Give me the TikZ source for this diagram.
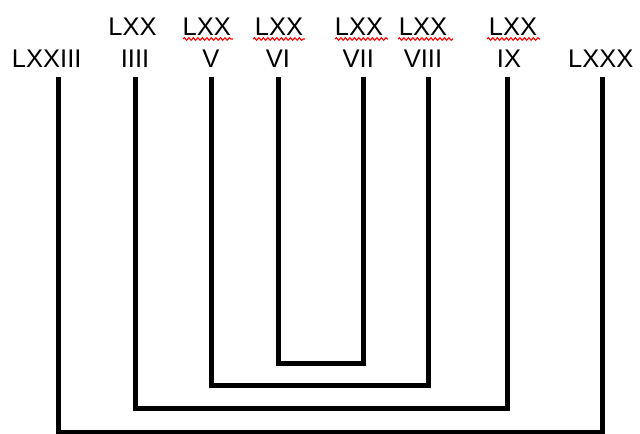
\documentclass[tikz,border=0pt]{standalone}
\usepackage{fontspec}
\setmainfont{Liberation Sans}
\usetikzlibrary{decorations.pathmorphing}
\begin{document}
\begin{tikzpicture}[x=1bp,y=-1bp,
  lbl/.style={anchor=base,inner sep=0pt,font=\fontsize{25.5bp}{30bp}\selectfont},
  bracket/.style={line width=5bp,line join=miter,black},
  squig/.style={red,line width=1.1bp,decorate,decoration={snake,amplitude=1.3bp,segment length=4.5bp}}]
\useasboundingbox (0,0) rectangle (640,434);
% top row
\node[lbl] (u4) at (132.5,36) {LXX};
\node[lbl] (u5) at (206.7,36) {LXX};
\node[lbl] (u6) at (279,36) {LXX};
\node[lbl] (u7) at (359,36) {LXX};
\node[lbl] (u8) at (423,36) {LXX};
\node[lbl] (u9) at (513,36) {LXX};
% second row
\node[lbl] (l3) at (46.7,68) {LXXIII};
\node[lbl] (l4) at (135,68) {IIII};
\node[lbl] (l5) at (211,68) {V};
\node[lbl] (l6) at (278,68) {VI};
\node[lbl] (l7) at (358.3,68) {VII};
\node[lbl] (l8) at (423,68) {VIII};
\node[lbl] (l9) at (509,68) {IX};
\node[lbl] (l0) at (600.8,68) {LXXX};
% spell-check squiggles
\draw[squig] (183,39) -- (233,39);
\draw[squig] (253,39) -- (305,39);
\draw[squig] (335,39) -- (388,39);
\draw[squig] (398,39) -- (453,39);
\draw[squig] (487,39) -- (540,39);
% line tops
\coordinate (t1) at (58,77);
\coordinate (t2) at (135,77);
\coordinate (t3) at (211,77);
\coordinate (t4) at (278,77);
\coordinate (t5) at (363,77);
\coordinate (t6) at (428,77);
\coordinate (t7) at (507,77);
\coordinate (t8) at (602,77);
% bottoms
\coordinate (b1) at (58,432);
\coordinate (b2) at (135,408);
\coordinate (b3) at (211,385);
\coordinate (b4) at (278,363);
\draw[bracket] (t1) -- (b1) -| (t8);
\draw[bracket] (t2) -- (b2) -| (t7);
\draw[bracket] (t3) -- (b3) -| (t6);
\draw[bracket] (t4) -- (b4) -| (t5);
\end{tikzpicture}
\end{document}
